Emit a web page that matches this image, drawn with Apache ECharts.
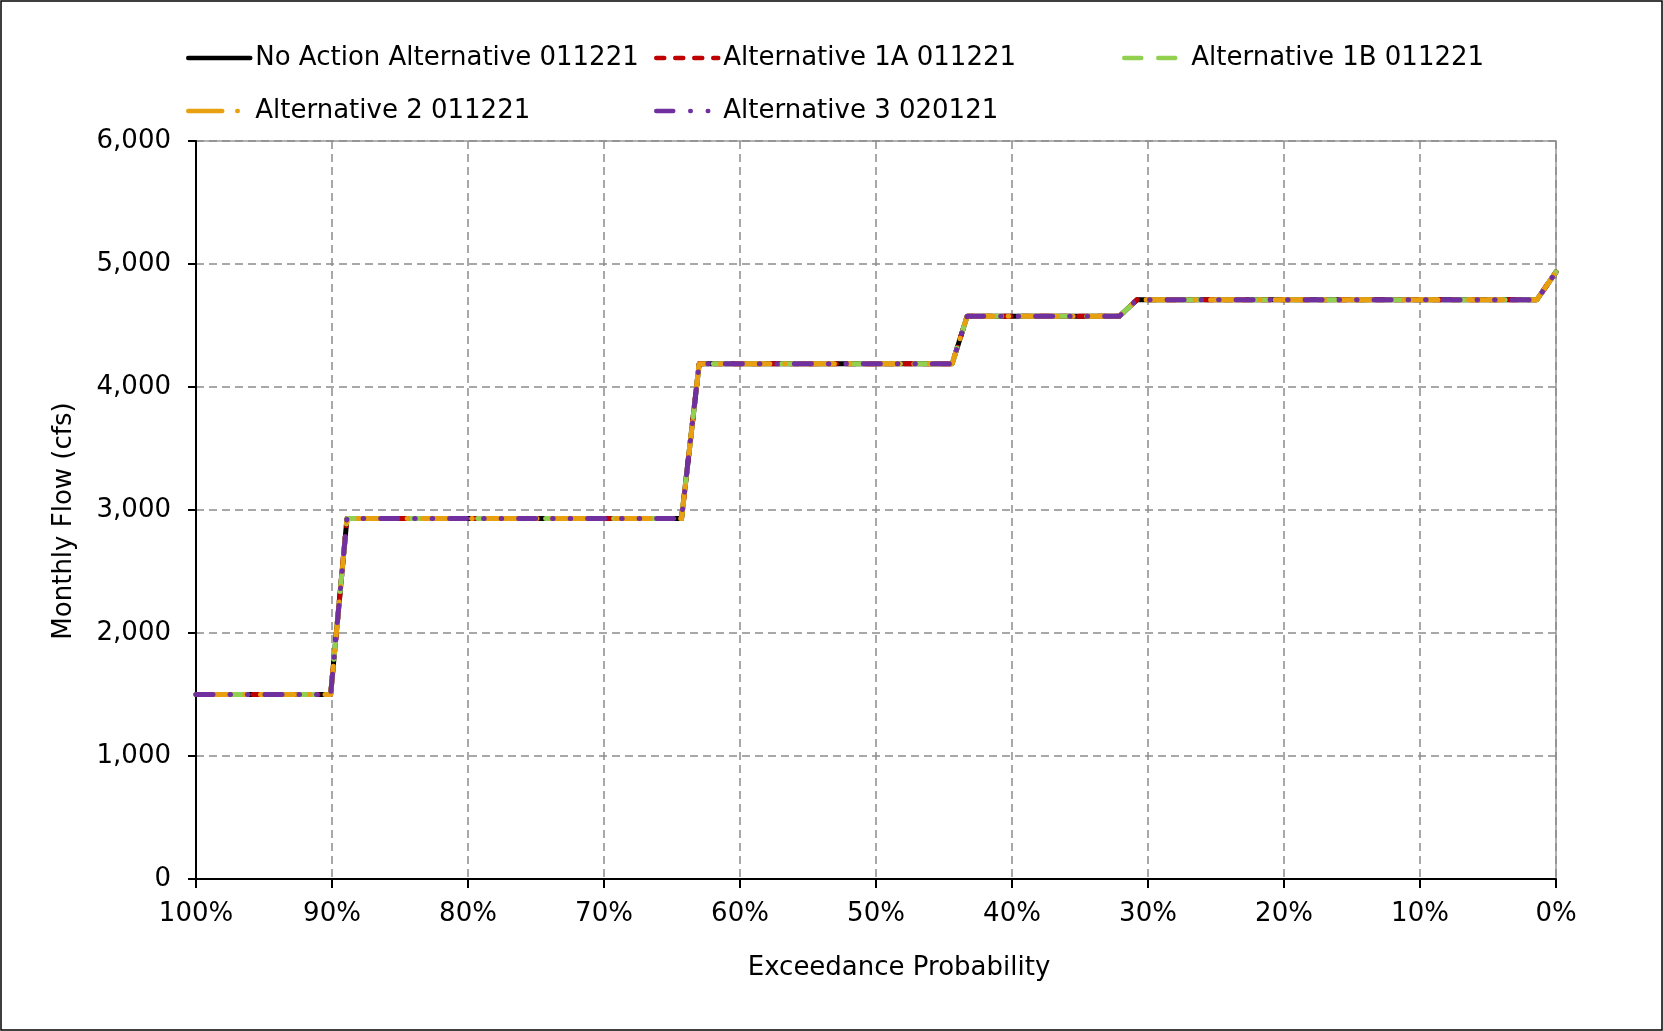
<!DOCTYPE html>
<html>
<head>
<meta charset="utf-8">
<script src="https://cdn.jsdelivr.net/npm/echarts@6/dist/echarts.min.js"></script>
<style>
html,body{margin:0;padding:0;background:#fff;}
#chart{width:1663px;height:1031px;}
</style>
</head>
<body>
<div id="chart"></div>
<script>
// Exceedance probability (%) of each corner point
const exceedance = [100, 90.1, 88.9, 64.3, 63.0, 44.4, 43.3, 32.1, 30.8, 1.4, 0];
// Monthly flow (cfs) for each series
const noAction  = [1500, 1500, 2930, 2930, 4190, 4190, 4575, 4575, 4710, 4710, 4935];
const alt1A     = [1500, 1500, 2930, 2930, 4190, 4190, 4575, 4575, 4710, 4710, 4935];
const alt1B     = [1500, 1500, 2930, 2930, 4190, 4190, 4575, 4575, 4710, 4710, 4935];
const alt2      = [1500, 1500, 2930, 2930, 4190, 4190, 4575, 4575, 4710, 4710, 4935];
const alt3      = [1500, 1500, 2930, 2930, 4190, 4190, 4575, 4575, 4710, 4710, 4935];
const seriesNames = ['No Action Alternative 011221', 'Alternative 1A 011221', 'Alternative 1B 011221', 'Alternative 2 011221', 'Alternative 3 020121'];
const xTicks = [0, 10, 20, 30, 40, 50, 60, 70, 80, 90, 100];
const yTicks = [0, 1000, 2000, 3000, 4000, 5000, 6000];

const FONT = '"DejaVu Sans", Verdana, sans-serif';
const pair = ys => exceedance.map((x, i) => [x, ys[i]]);

const styles = [
  {color: '#000000', type: 'solid'},
  {color: '#C00000', type: [8, 11]},
  {color: '#92D050', type: [17, 17]},
  {color: '#E8A010', type: [34, 15, 0.5, 15]},
  {color: '#7030A0', type: [17, 17, 0.5, 17, 0.5, 17]}
];
const values = [noAction, alt1A, alt1B, alt2, alt3];

const series = values.map((ys, i) => ({
  name: seriesNames[i],
  type: 'line',
  data: pair(ys),
  symbol: 'circle',
  showSymbol: false,
  color: styles[i].color,
  lineStyle: {color: styles[i].color, width: 5, type: styles[i].type, cap: 'round', join: 'round'},
  z: 2 + i
}));

const legendPos = [
  {left: 181, top: 40}, {left: 649, top: 40}, {left: 1117, top: 40},
  {left: 181, top: 93}, {left: 649, top: 93}
];
const legends = seriesNames.map((n, i) => ({
  data: [n],
  left: legendPos[i].left,
  top: legendPos[i].top,
  itemWidth: 62,
  itemHeight: 14,
  selectedMode: false,
  itemStyle: {opacity: 0},
  lineStyle: {width: 4.5, cap: 'round'},
  textStyle: {fontFamily: FONT, fontSize: 26, color: '#000'}
}));

const chart = echarts.init(document.getElementById('chart'), null, {renderer: 'canvas'});
chart.setOption({
  backgroundColor: '#fff',
  animation: false,
  legend: legends,
  grid: {left: 196, right: 107, top: 141, bottom: 152, show: true, borderColor: '#999999', borderWidth: 1.5},
  xAxis: {
    type: 'value', min: 0, max: 100, interval: 10, inverse: true,
    name: 'Exceedance Probability', nameLocation: 'middle', nameGap: 76,
    nameTextStyle: {fontFamily: FONT, fontSize: 26, color: '#000', padding: [0, 0, 0, 46]},
    axisLine: {show: true, onZero: false, lineStyle: {color: '#000', width: 2}},
    axisTick: {show: true, inside: false, length: 9, lineStyle: {color: '#000', width: 2}},
    axisLabel: {fontFamily: FONT, fontSize: 26, color: '#000', margin: 22,
      formatter: v => xTicks.includes(v) ? v + '%' : ''},
    splitLine: {show: true, lineStyle: {color: '#8c8c8c', width: 1.5, type: [8, 5]}}
  },
  yAxis: {
    type: 'value', min: 0, max: 6000, interval: 1000, position: 'left',
    name: 'Monthly Flow (cfs)', nameLocation: 'middle', nameGap: 119, nameRotate: 90,
    nameTextStyle: {fontFamily: FONT, fontSize: 26, color: '#000', padding: [0, 22, 0, 0]},
    axisLine: {show: true, onZero: false, lineStyle: {color: '#000', width: 2}},
    axisTick: {show: true, inside: false, length: 8, lineStyle: {color: '#000', width: 2}},
    axisLabel: {fontFamily: FONT, fontSize: 26, color: '#000', margin: 25,
      formatter: v => yTicks.includes(v) ? v.toLocaleString('en-US') : ''},
    splitLine: {show: true, lineStyle: {color: '#8c8c8c', width: 1.5, type: [8, 5]}}
  },
  graphic: [{
    type: 'rect', silent: true, z: 100,
    shape: {x: 1, y: 1, width: 1661, height: 1029},
    style: {fill: 'none', stroke: '#000', lineWidth: 1.5}
  }],
  series: series
});
</script>
</body>
</html>
